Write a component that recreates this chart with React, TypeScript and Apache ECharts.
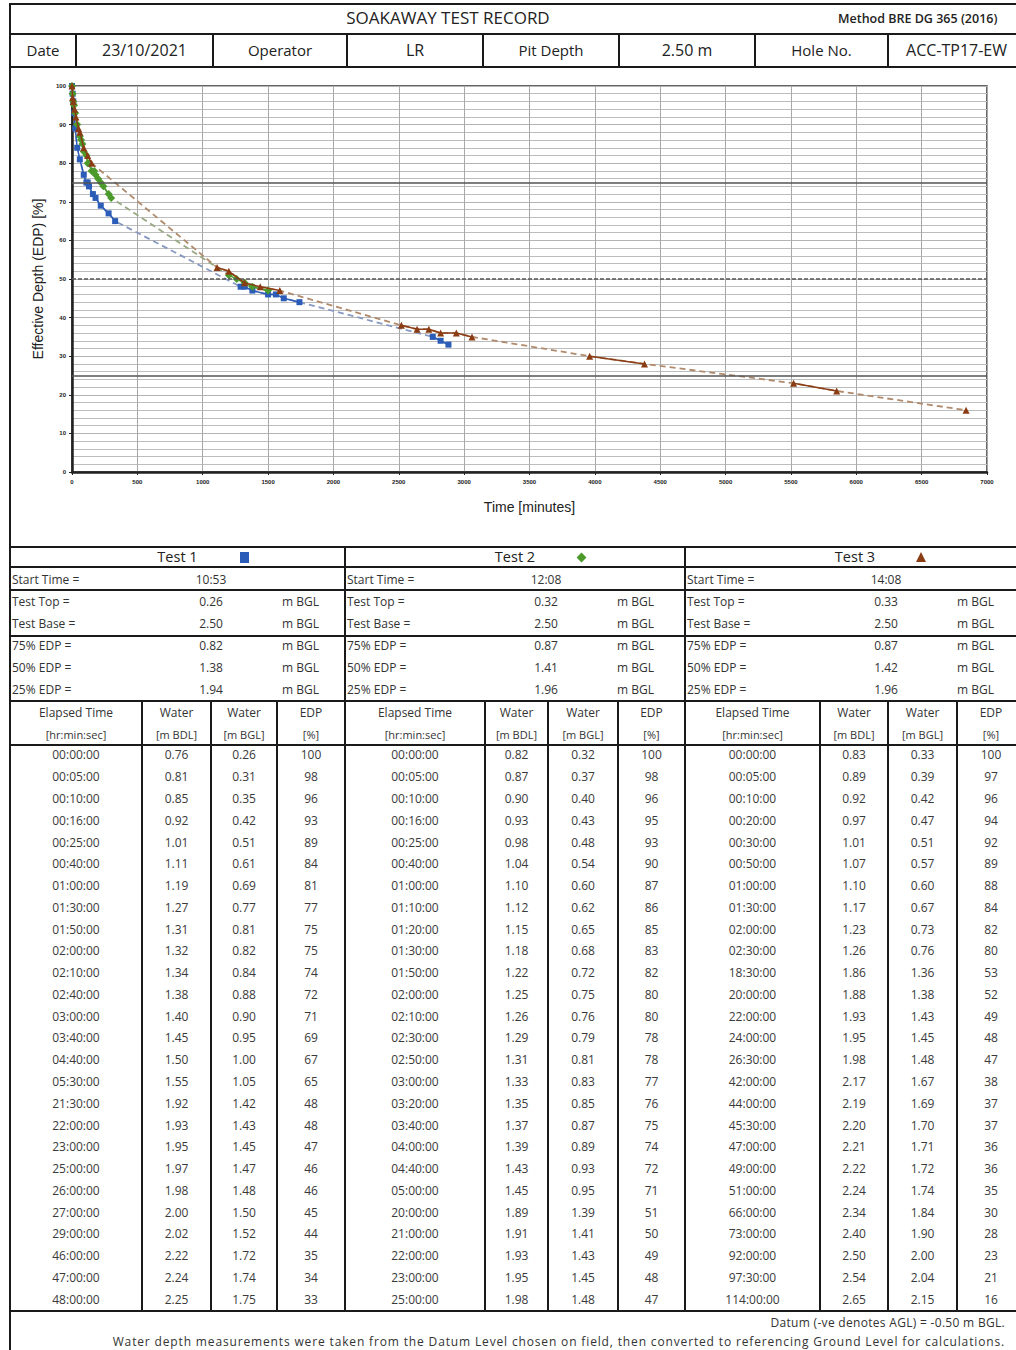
import React, { useEffect, useRef } from "react";
import * as echarts from "echarts";

// ---------- DATA ----------
const headerLabels = ["Date", "Operator", "Pit Depth", "Hole No."];
const headerValues = ["23/10/2021", "LR", "2.50 m", "ACC-TP17-EW"];

const testNames = ["Test 1", "Test 2", "Test 3"];
const startTimes = ["10:53", "12:08", "14:08"];
const testTops = ["0.26", "0.32", "0.33"];
const testBases = ["2.50", "2.50", "2.50"];
const edp75 = ["0.82", "0.87", "0.87"];
const edp50 = ["1.38", "1.41", "1.42"];
const edp25 = ["1.94", "1.96", "1.96"];

const test1Elapsed = ["00:00:00","00:05:00","00:10:00","00:16:00","00:25:00","00:40:00","01:00:00","01:30:00","01:50:00","02:00:00","02:10:00","02:40:00","03:00:00","03:40:00","04:40:00","05:30:00","21:30:00","22:00:00","23:00:00","25:00:00","26:00:00","27:00:00","29:00:00","46:00:00","47:00:00","48:00:00"];
const test1Bdl = ["0.76","0.81","0.85","0.92","1.01","1.11","1.19","1.27","1.31","1.32","1.34","1.38","1.40","1.45","1.50","1.55","1.92","1.93","1.95","1.97","1.98","2.00","2.02","2.22","2.24","2.25"];
const test1Bgl = ["0.26","0.31","0.35","0.42","0.51","0.61","0.69","0.77","0.81","0.82","0.84","0.88","0.90","0.95","1.00","1.05","1.42","1.43","1.45","1.47","1.48","1.50","1.52","1.72","1.74","1.75"];
const test1Edp = [100,98,96,93,89,84,81,77,75,75,74,72,71,69,67,65,48,48,47,46,46,45,44,35,34,33];

const test2Elapsed = ["00:00:00","00:05:00","00:10:00","00:16:00","00:25:00","00:40:00","01:00:00","01:10:00","01:20:00","01:30:00","01:50:00","02:00:00","02:10:00","02:30:00","02:50:00","03:00:00","03:20:00","03:40:00","04:00:00","04:40:00","05:00:00","20:00:00","21:00:00","22:00:00","23:00:00","25:00:00"];
const test2Bdl = ["0.82","0.87","0.90","0.93","0.98","1.04","1.10","1.12","1.15","1.18","1.22","1.25","1.26","1.29","1.31","1.33","1.35","1.37","1.39","1.43","1.45","1.89","1.91","1.93","1.95","1.98"];
const test2Bgl = ["0.32","0.37","0.40","0.43","0.48","0.54","0.60","0.62","0.65","0.68","0.72","0.75","0.76","0.79","0.81","0.83","0.85","0.87","0.89","0.93","0.95","1.39","1.41","1.43","1.45","1.48"];
const test2Edp = [100,98,96,95,93,90,87,86,85,83,82,80,80,78,78,77,76,75,74,72,71,51,50,49,48,47];

const test3Elapsed = ["00:00:00","00:05:00","00:10:00","00:20:00","00:30:00","00:50:00","01:00:00","01:30:00","02:00:00","02:30:00","18:30:00","20:00:00","22:00:00","24:00:00","26:30:00","42:00:00","44:00:00","45:30:00","47:00:00","49:00:00","51:00:00","66:00:00","73:00:00","92:00:00","97:30:00","114:00:00"];
const test3Bdl = ["0.83","0.89","0.92","0.97","1.01","1.07","1.10","1.17","1.23","1.26","1.86","1.88","1.93","1.95","1.98","2.17","2.19","2.20","2.21","2.22","2.24","2.34","2.40","2.50","2.54","2.65"];
const test3Bgl = ["0.33","0.39","0.42","0.47","0.51","0.57","0.60","0.67","0.73","0.76","1.36","1.38","1.43","1.45","1.48","1.67","1.69","1.70","1.71","1.72","1.74","1.84","1.90","2.00","2.04","2.15"];
const test3Edp = [100,97,96,94,92,89,88,84,82,80,53,52,49,48,47,38,37,37,36,36,35,30,28,23,21,16];

const xTicks = { min: 0, max: 7000, interval: 500 };
const yTicks = { min: 0, max: 100, interval: 10 };
const edpReferenceLines = [75, 50, 25];

// ---------- HELPERS ----------
const toMinutes = (s: string) => {
  const [h, m, sec] = s.split(":").map(Number);
  return h * 60 + m + sec / 60;
};

const tests = [
  { elapsed: test1Elapsed, bdl: test1Bdl, bgl: test1Bgl, edp: test1Edp },
  { elapsed: test2Elapsed, bdl: test2Bdl, bgl: test2Bgl, edp: test2Edp },
  { elapsed: test3Elapsed, bdl: test3Bdl, bgl: test3Bgl, edp: test3Edp },
];

const styles = [
  { color: "#2b5cb8", dash: "#8799c0", symbol: "rect", size: 6 },
  { color: "#4d9a2c", dash: "#97a882", symbol: "diamond", size: 8 },
  { color: "#8a3c14", dash: "#b08a6c", symbol: "triangle", size: 7 },
];

const FONT = "'Open Sans', 'Noto Sans', sans-serif";

function T(props: { x: number; y: number; align?: "left" | "center" | "right"; size?: number; color?: string; weight?: number | string; spacing?: number; children: any }) {
  const { x, y, align = "left", size = 12, color = "#333", weight = 400, spacing = 0, children } = props;
  const h = size * 1.4;
  let left = x;
  let width: number | undefined = undefined;
  if (align === "center") { left = x - 300; width = 600; }
  if (align === "right") { left = x - 1000; width = 1000; }
  return (
    <div style={{ position: "absolute", left, top: y - h / 2, width, height: h, lineHeight: h + "px", fontSize: size, color, fontWeight: weight as any, textAlign: align, whiteSpace: "nowrap", letterSpacing: spacing, fontFamily: FONT }}>
      {children}
    </div>
  );
}

function HL(props: { y: number; x1: number; x2: number; w?: number; c?: string }) {
  const { y, x1, x2, w = 2, c = "#1a1a1a" } = props;
  return <div style={{ position: "absolute", left: x1, top: y - w / 2, width: x2 - x1, height: w, background: c }} />;
}
function VL(props: { x: number; y1: number; y2: number; w?: number; c?: string }) {
  const { x, y1, y2, w = 2, c = "#1a1a1a" } = props;
  return <div style={{ position: "absolute", left: x - w / 2, top: y1, width: w, height: y2 - y1, background: c }} />;
}

function Chart() {
  const ref = useRef<HTMLDivElement>(null);
  useEffect(() => {
    if (!ref.current) return;
    const chart = echarts.init(ref.current, undefined, { renderer: "svg" });
    const series: any[] = [];
    tests.forEach((t, i) => {
      const times = t.elapsed.map(toMinutes);
      const pts = times.map((tm, k) => [tm, t.edp[k]]);
      const solid: any[] = [];
      pts.forEach((p, k) => {
        if (k > 0 && times[k] - times[k - 1] > 600) solid.push([times[k], "-"]);
        solid.push(p);
      });
      const dashed: any = {
        name: testNames[i] + " trend",
        type: "line",
        data: pts,
        showSymbol: false,
        symbol: "none",
        silent: true,
        z: 2,
        lineStyle: { color: styles[i].dash, width: 1.8, type: [6, 4] },
      };
      if (i === 0) {
        dashed.markLine = {
          silent: true,
          symbol: ["none", "none"],
          label: { show: false },
          data: edpReferenceLines.map((v) => ({
            yAxis: v,
            lineStyle: { color: "#555", width: 1.5, type: v === 50 ? [4, 2] : "solid" },
          })),
        };
      }
      series.push(dashed);
      series.push({
        name: testNames[i],
        type: "line",
        data: solid,
        connectNulls: false,
        symbol: styles[i].symbol,
        symbolSize: styles[i].size,
        z: 3 + i,
        itemStyle: { color: styles[i].color },
        lineStyle: { color: styles[i].color, width: 1.5 },
      });
    });
    chart.setOption({
      animation: false,
      grid: { left: 62, top: 19, width: 915, height: 386, show: true, borderColor: "#333", borderWidth: 1.5, backgroundColor: "transparent" },
      xAxis: {
        type: "value",
        min: xTicks.min, max: xTicks.max, interval: xTicks.interval,
        axisLine: { show: true, onZero: false, lineStyle: { color: "#222", width: 2.5 } },
        axisTick: { show: true, length: 3, lineStyle: { color: "#222" } },
        axisLabel: { fontSize: 6, fontWeight: "bold", color: "#222", margin: 7, fontFamily: "Liberation Sans", formatter: (v: number) => String(v) },
        splitLine: { show: true, lineStyle: { color: "#a9a9a9", width: 1 } },
        name: "Time [minutes]",
        nameLocation: "middle",
        nameGap: 28,
        nameTextStyle: { fontSize: 14, color: "#222", fontFamily: "Liberation Sans" },
      },
      yAxis: {
        type: "value",
        min: yTicks.min, max: yTicks.max, interval: yTicks.interval,
        axisLine: { show: true, onZero: false, lineStyle: { color: "#222", width: 2.5 } },
        axisTick: { show: true, length: 3, lineStyle: { color: "#222" } },
        axisLabel: { fontSize: 6, fontWeight: "bold", color: "#222", margin: 6, fontFamily: "Liberation Sans", formatter: (v: number) => String(v) },
        splitLine: { show: true, lineStyle: { color: "#b4b4b4", width: 1 } },
        minorTick: { show: false, splitNumber: 5 },
        minorSplitLine: { show: true, lineStyle: { color: "#bdbdbd", width: 1 } },
        name: "Effective Depth (EDP) [%]",
        nameLocation: "middle",
        nameGap: 27,
        nameRotate: 90,
        nameTextStyle: { fontSize: 14, color: "#222", fontFamily: "Liberation Sans" },
      },
      series,
    });
    return () => chart.dispose();
  }, []);
  return <div ref={ref} style={{ position: "absolute", left: 10, top: 67, width: 1006, height: 479 }} />;
}

export default function App() {
  const sections = [
    { x: 10, cols: [10, 142, 211, 277, 345] },
    { x: 345, cols: [345, 485, 548, 618, 685] },
    { x: 685, cols: [685, 820, 888, 957, 1025] },
  ];
  const paramRows = [
    { label: "Start Time =", vals: startTimes, unit: "", y: 580 },
    { label: "Test Top =", vals: testTops, unit: "m BGL", y: 602 },
    { label: "Test Base =", vals: testBases, unit: "m BGL", y: 624 },
    { label: "75% EDP =", vals: edp75, unit: "m BGL", y: 646 },
    { label: "50% EDP =", vals: edp50, unit: "m BGL", y: 668 },
    { label: "25% EDP =", vals: edp25, unit: "m BGL", y: 690 },
  ];
  const colHead = [["Elapsed Time", "[hr:min:sec]"], ["Water", "[m BDL]"], ["Water", "[m BGL]"], ["EDP", "[%]"]];
  const rowTop = 745;
  const rowH = (1311 - 745) / 26;
  const headerCells = [10, 76, 213, 347, 483, 619, 755, 888, 1025];

  return (
    <div style={{ position: "absolute", left: 0, top: 0, width: 1016, height: 1350, overflow: "hidden", background: "#fff", fontFamily: FONT }}>
      <Chart />
      {/* header */}
      <T x={448} y={18} align="center" size={17} weight={500} color="#222">SOAKAWAY TEST RECORD</T>
      <T x={838} y={19} size={12.5} weight={600} color="#222">Method BRE DG 365 (2016)</T>
      {headerLabels.map((lab, i) => (
        <T key={"hl" + i} x={(headerCells[2 * i] + headerCells[2 * i + 1]) / 2} y={50} align="center" size={15} color="#222">{lab}</T>
      ))}
      {headerValues.map((v, i) => (
        <T key={"hv" + i} x={(headerCells[2 * i + 1] + headerCells[2 * i + 2]) / 2} y={50} align="center" size={16} color="#222">{v}</T>
      ))}
      {headerCells.slice(1, 8).map((x, i) => <VL key={"hc" + i} x={x} y1={34} y2={67} />)}

      {/* test headers */}
      {sections.map((s, i) => {
        const cx = (s.cols[0] + s.cols[4]) / 2;
        return (
          <React.Fragment key={"th" + i}>
            <T x={cx} y={557} align="center" size={14.5} color="#222">{testNames[i]}</T>
            {i === 0 && <div style={{ position: "absolute", left: cx + 62, top: 552, width: 9, height: 11, background: styles[0].color }} />}
            {i === 1 && <div style={{ position: "absolute", left: cx + 63, top: 554, width: 7, height: 7, background: styles[1].color, transform: "rotate(45deg)" }} />}
            {i === 2 && <div style={{ position: "absolute", left: cx + 61, top: 552, width: 0, height: 0, borderLeft: "5px solid transparent", borderRight: "5px solid transparent", borderBottom: "10px solid " + styles[2].color }} />}
          </React.Fragment>
        );
      })}

      {/* params */}
      {paramRows.map((r, ri) => sections.map((s, si) => (
        <React.Fragment key={"p" + ri + "_" + si}>
          <T x={s.x + 2} y={r.y} size={12} color="#333">{r.label}</T>
          <T x={s.x + 201} y={r.y} align="center" size={12} color="#333">{r.vals[si]}</T>
          {r.unit && <T x={s.x + 272} y={r.y} size={12} color="#333">{r.unit}</T>}
        </React.Fragment>
      )))}

      {/* column headers */}
      {sections.map((s, si) => colHead.map((h, ci) => {
        const cx = (s.cols[ci] + s.cols[ci + 1]) / 2;
        return (
          <React.Fragment key={"ch" + si + "_" + ci}>
            <T x={cx} y={713} align="center" size={12} color="#333">{h[0]}</T>
            <T x={cx} y={735} align="center" size={11} color="#333">{h[1]}</T>
          </React.Fragment>
        );
      }))}

      {/* data rows */}
      {sections.map((s, si) => {
        const t = tests[si];
        return t.elapsed.map((e, k) => {
          const y = rowTop + rowH * (k + 0.5);
          const vals = [e, t.bdl[k], t.bgl[k], String(t.edp[k])];
          return vals.map((v, ci) => (
            <T key={"d" + si + "_" + k + "_" + ci} x={(s.cols[ci] + s.cols[ci + 1]) / 2} y={y} align="center" size={12} color="#3a3a3a">{v}</T>
          ));
        });
      })}

      {/* footer */}
      <T x={1005} y={1323} align="right" size={12} spacing={0.3} color="#333">Datum (-ve denotes AGL) = -0.50 m BGL.</T>
      <T x={1005} y={1342} align="right" size={12} spacing={0.85} color="#333">Water depth measurements were taken from the Datum Level chosen on field, then converted to referencing Ground Level for calculations.</T>

      {/* lines */}
      <HL y={4} x1={9} x2={1030} />
      <HL y={34} x1={9} x2={1030} />
      <HL y={67} x1={9} x2={1030} />
      <HL y={547} x1={9} x2={1030} />
      <HL y={567} x1={9} x2={1030} w={1.5} />
      <HL y={590} x1={9} x2={1030} />
      <HL y={636} x1={9} x2={1030} />
      <HL y={701} x1={9} x2={1030} />
      <HL y={745} x1={9} x2={1030} />
      <HL y={1311} x1={9} x2={1030} />
      <VL x={10} y1={3} y2={1350} />
      {sections.slice(1).map((s, i) => <VL key={"sv" + i} x={s.x} y1={547} y2={1311} />)}
      {sections.map((s, si) => s.cols.slice(1, 4).map((x, ci) => <VL key={"cv" + si + "_" + ci} x={x} y1={701} y2={1311} />))}
    </div>
  );
}
